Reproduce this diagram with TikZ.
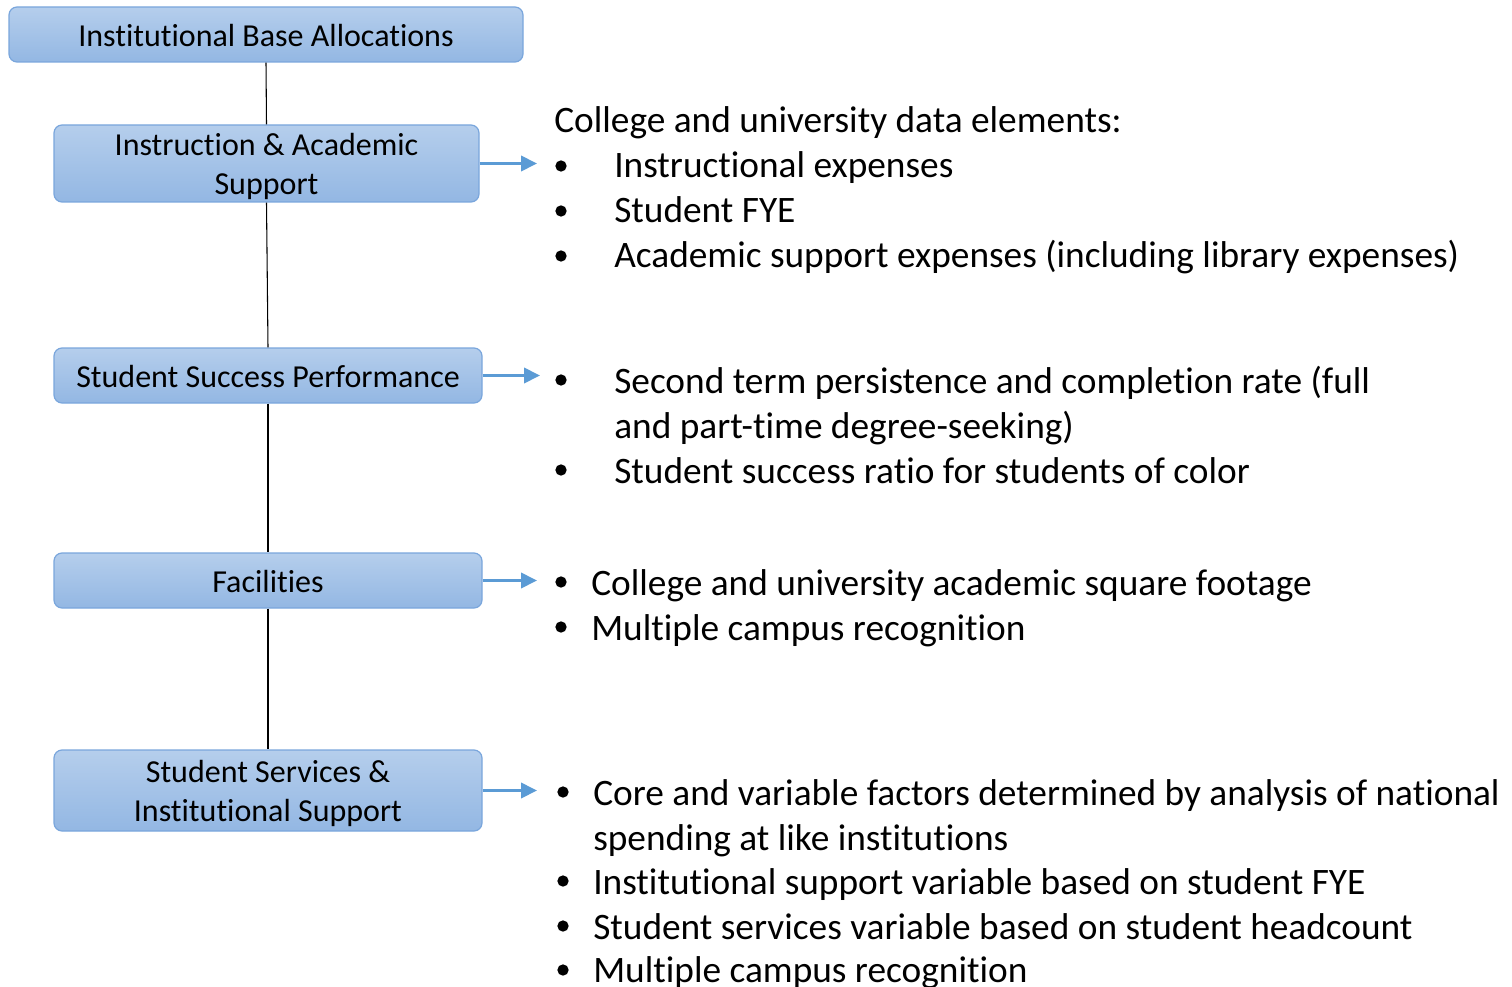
\documentclass[tikz,border=0pt]{standalone}
\usepackage{fontspec}
\setmainfont{Carlito}[Ligatures=NoCommon]
\usetikzlibrary{arrows.meta}
\definecolor{boxtop}{HTML}{B5CEEC}
\definecolor{boxbot}{HTML}{93B7E3}
\definecolor{boxline}{HTML}{7AA6DC}
\definecolor{arrowblue}{HTML}{5B9BD5}
% struts that set the vertical position of the box labels
\newcommand{\onestrut}{\rule{0pt}{18pt}}
\newcommand{\twostrut}{\rule{0pt}{21pt}}
\tikzset{
  budget/.style={rectangle, rounded corners=6pt, draw=boxline, line width=0.9pt,
    top color=boxtop, bottom color=boxbot, inner sep=0pt, align=center,
    font=\fontsize{24}{29.5}\selectfont},
  trunk/.style={draw=black, line width=0.8pt},
  feed/.style={draw=arrowblue, line width=2pt, -{Triangle[length=12pt,width=11.5pt]}},
  item/.style={anchor=base west, inner sep=0pt, font=\fontsize{28}{34}\selectfont},
  dot/.style={circle, fill=black, inner sep=0pt, minimum size=8.5pt}
}
\begin{document}
\begin{tikzpicture}[x=0.75pt,y=-0.75pt]
\useasboundingbox (0,0) rectangle (1512,987);

% funding components
\node[budget, minimum width=385.5pt, minimum height=41.25pt] (base) at (266,34.5) {\onestrut Institutional Base Allocations};
\node[budget, minimum width=318.75pt, minimum height=57.75pt] (instr) at (266.5,163.5) {\twostrut Instruction \& Academic\\Support};
\node[budget, minimum width=321pt, minimum height=41.25pt] (succ) at (268,375.5) {\onestrut Student Success Performance};
\node[budget, minimum width=321pt, minimum height=41.25pt] (fac) at (268,580.5) {\onestrut Facilities};
\node[budget, minimum width=321pt, minimum height=60.75pt] (serv) at (268,790.5) {\twostrut Student Services \&\\Institutional Support};

% spine joining the components
\draw[trunk] (base.south) -- (instr.north);
\draw[trunk] (instr.south) -- (succ.north);
\draw[trunk] (succ.south) -- (fac.north);
\draw[trunk] (fac.south) -- (serv.north);

% arrows to the data elements
\coordinate (e1) at (537,163.5);
\coordinate (e2) at (540,375.5);
\coordinate (e3) at (537,580.5);
\coordinate (e4) at (537,790.5);
\draw[feed] (instr.east) -- (e1);
\draw[feed] (succ.east) -- (e2);
\draw[feed] (fac.east) -- (e3);
\draw[feed] (serv.east) -- (e4);

% instruction & academic support
\node[item] (h1) at (554,133) {College and university data elements:};
\node[dot] (d11) at (561,166) {};
\node[item] (t11) at (614,178) {Instructional expenses};
\node[dot] (d12) at (561,211) {};
\node[item] (t12) at (614,223) {Student FYE};
\node[dot] (d13) at (561,256) {};
\node[item] (t13) at (614,268) {Academic support expenses (including library expenses)};

% student success
\node[dot] (d21) at (561,380) {};
\node[item] (t21) at (614,393) {Second term persistence and completion rate (full};
\node[item] (t22) at (614,438) {and part-time degree-seeking)};
\node[dot] (d22) at (561,470) {};
\node[item] (t23) at (614,483) {Student success ratio for students of color};

% facilities
\node[dot] (d31) at (561,582) {};
\node[item] (t31) at (591,595) {College and university academic square footage};
\node[dot] (d32) at (561,627) {};
\node[item] (t32) at (591,640) {Multiple campus recognition};

% student services & institutional support
\node[dot] (d41) at (563,792) {};
\node[item] (t41) at (593,805) {Core and variable factors determined by analysis of national};
\node[item] (t42) at (593,850) {spending at like institutions};
\node[dot] (d42) at (563,881) {};
\node[item] (t43) at (593,894) {Institutional support variable based on student FYE};
\node[dot] (d43) at (563,926) {};
\node[item] (t44) at (593,939) {Student services variable based on student headcount};
\node[dot] (d44) at (563,970) {};
\node[item] (t45) at (593,982) {Multiple campus recognition};
\end{tikzpicture}
\end{document}
